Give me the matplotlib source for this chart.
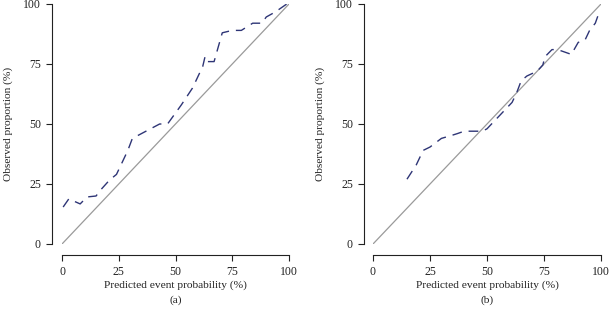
import matplotlib
matplotlib.use("Agg")
import matplotlib.pyplot as plt

plt.rcParams['font.family'] = ['Liberation Serif', 'DejaVu Serif']

# Panel (a) calibration curve
a_pred = [0.5, 3, 8, 11, 15, 17, 21, 24, 29, 31, 37, 43, 46.5, 52.6, 57.5, 62, 63, 63.6, 67, 70.6, 75, 79, 84, 88, 90, 94, 99]
a_obs = [15.4, 18.8, 16.7, 19.6, 20, 22.5, 26.7, 29, 39, 44, 47, 50, 50, 58, 65, 74, 78, 76, 76, 88, 89, 89, 92, 92, 94.6, 96.7, 100]

# Panel (b) calibration curve
b_pred = [14.9, 19, 22, 25, 30, 35, 37, 40, 48, 50, 55, 61, 63, 65, 67.5, 72, 74.5, 75.4, 78.5, 81, 87, 90, 93, 95, 97.5, 99]
b_obs = [27, 33, 39, 40.4, 44, 45.4, 46, 47, 47, 48, 53, 59, 63, 68, 70, 72, 74.6, 78, 81, 81, 79, 84, 85, 89, 92, 96]

ticks = [0, 25, 50, 75, 100]
panel_labels = ["(a)", "(b)"]
xlabel = "Predicted event probability (%)"
ylabel = "Observed proportion (%)"

W, H = 610, 313
fig = plt.figure(figsize=(W / 100, H / 100), dpi=100)

specs = [
    (62, 289, 52, 8, a_pred, a_obs),
    (373, 601, 364, 320, b_pred, b_obs),
]
dark = "#222222"
for i, (x0, x1, spine_x, ylab_x, px, py) in enumerate(specs):
    y_top, y_bot = 4, 244
    ax = fig.add_axes([x0 / W, (H - y_bot) / H, (x1 - x0) / W, (y_bot - y_top) / H])
    ax.set_xlim(0, 100)
    ax.set_ylim(0, 100)
    ax.plot([0, 100], [0, 100], color="#9a9a9a", lw=0.9, solid_capstyle="butt")
    ax.plot(px, py, color="#2e3576", lw=1.0, dashes=(7, 5))
    for s in ["top", "right"]:
        ax.spines[s].set_visible(False)
    ax.spines["left"].set_position(("outward", (x0 - spine_x) * 0.72))
    ax.spines["bottom"].set_position(("outward", 11 * 0.72))
    ax.spines["left"].set_bounds(0, 100)
    ax.spines["bottom"].set_bounds(0, 100)
    for s in ["left", "bottom"]:
        ax.spines[s].set_color(dark)
        ax.spines[s].set_linewidth(0.8)
    ax.set_xticks(ticks)
    ax.set_yticks(ticks)
    ax.set_xticklabels([str(t) for t in ticks])
    ax.set_yticklabels([str(t) for t in ticks])
    ax.tick_params(axis="both", length=4, width=0.8, color=dark, labelsize=8.5,
                   labelcolor=dark, direction="out")
    ax.tick_params(axis="x", pad=4)
    ax.tick_params(axis="y", pad=4)
    ax.patch.set_alpha(0)
    cx = (x0 + x1) / 2
    fig.text(cx / W, 1 - 285 / H, xlabel, ha="center", va="center",
             fontsize=8.2, color=dark)
    fig.text(ylab_x / W, 1 - 124 / H, ylabel, ha="center", va="center",
             rotation=90, fontsize=8.2, color=dark)
    fig.text(cx / W, 1 - 300 / H, panel_labels[i], ha="center", va="center",
             fontsize=8.2, color=dark)

fig.savefig("out.png", dpi=100)
